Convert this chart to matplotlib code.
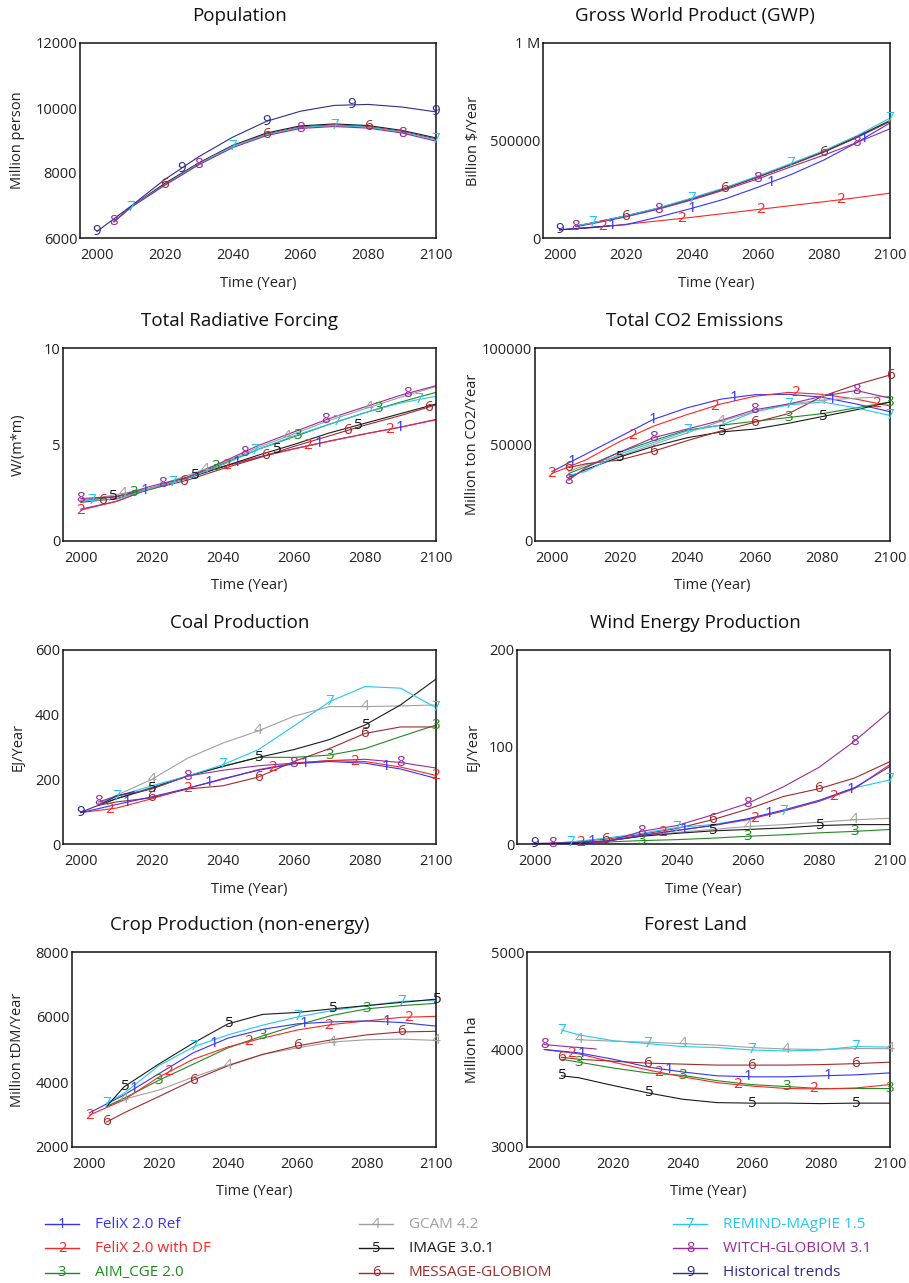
import numpy as np
import matplotlib
matplotlib.use("Agg")
import matplotlib.pyplot as plt
from matplotlib.lines import Line2D

plt.rcParams['font.family'] = ['Open Sans', 'DejaVu Sans']

# ---- data ----
yrs_f = [2000, 2010, 2020, 2030, 2040, 2050, 2060, 2070, 2080, 2090, 2100]
yrs_m = [2005, 2010, 2020, 2030, 2040, 2050, 2060, 2070, 2080, 2090, 2100]
yrs_m10 = [2010, 2020, 2030, 2040, 2050, 2060, 2070, 2080, 2090, 2100]
yrs_h = [2000, 2005, 2010, 2015]

names = ["FeliX 2.0 Ref", "FeliX 2.0 with DF", "AIM_CGE 2.0", "GCAM 4.2", "IMAGE 3.0.1",
         "MESSAGE-GLOBIOM", "REMIND-MAgPIE 1.5", "WITCH-GLOBIOM 3.1", "Historical trends"]
colors = ["#3333ff", "#ff2424", "#1f8a1f", "#a0a0a0", "#1a1a1a",
          "#a32a2a", "#22c8f2", "#992c99", "#2c2c90"]

# Population (Million person)
pop_hist = [6200, 6980, 7800, 8500, 9100, 9590, 9900, 10080, 10110, 10030, 9880]
pop_image = [6500, 6960, 7680, 8310, 8850, 9230, 9450, 9510, 9460, 9310, 9080]
pop_message = [6500, 6950, 7650, 8290, 8830, 9200, 9420, 9480, 9430, 9280, 9050]
pop_remind = [6500, 6950, 7640, 8280, 8820, 9180, 9400, 9460, 9410, 9260, 9020]
pop_witch = [6500, 6940, 7620, 8250, 8780, 9150, 9370, 9430, 9380, 9230, 8980]

# GWP (Billion $/Year)
gwp_felix_ref = [42000, 55000, 68000, 108000, 152000, 200000, 260000, 325000, 400000, 490000, 590000]
gwp_felix_df = [42000, 53000, 70000, 88000, 106000, 126000, 146000, 166000, 186000, 207000, 230000]
gwp_hist = [42000, 48000, 55000, 62000]
gwp_aim = [62000, 78000, 113000, 153000, 202000, 255000, 315000, 378000, 445000, 520000, 603000]
gwp_image = [61000, 77000, 112000, 152000, 200000, 253000, 313000, 376000, 443000, 518000, 600000]
gwp_message = [60000, 76000, 112000, 152000, 200000, 254000, 312000, 375000, 440000, 515000, 598000]
gwp_remind = [63000, 78000, 114000, 155000, 205000, 258000, 318000, 382000, 448000, 525000, 615000]
gwp_witch = [58000, 74000, 108000, 148000, 195000, 247000, 303000, 365000, 425000, 490000, 560000]

# Total radiative forcing (W/m2)
rf_felix_ref = [1.65, 2.05, 2.75, 3.3, 3.85, 4.35, 4.78, 5.18, 5.55, 5.9, 6.3]
rf_felix_df = [1.6, 2.05, 2.75, 3.3, 3.85, 4.33, 4.77, 5.17, 5.55, 5.9, 6.28]
rf_aim = [2.1, 2.3, 2.7, 3.3, 4.0, 4.75, 5.4, 6.05, 6.65, 7.2, 7.7]
rf_gcam = [2.1, 2.4, 2.75, 3.4, 4.05, 4.85, 5.55, 6.25, 6.85, 7.45, 8.0]
rf_image = [2.1, 2.3, 2.75, 3.25, 3.85, 4.45, 5.0, 5.6, 6.1, 6.6, 7.1]
rf_message = [2.0, 2.2, 2.7, 3.15, 3.75, 4.3, 4.9, 5.45, 6.0, 6.5, 7.05]
rf_remind = [2.1, 2.15, 2.75, 3.25, 3.95, 4.75, 5.45, 6.05, 6.65, 7.15, 7.5]
rf_witch = [2.2, 2.3, 2.85, 3.3, 4.1, 4.95, 5.65, 6.35, 6.95, 7.55, 8.05]

# Total CO2 emissions (Million ton CO2/Year)
co2_felix_ref = [36000, 45000, 54000, 63000, 69000, 73500, 75800, 76000, 74500, 71000, 67000]
co2_felix_df = [35000, 42000, 51500, 59500, 65500, 71000, 75000, 77000, 76000, 73500, 70000]
co2_aim = [35000, 38500, 46000, 52000, 57500, 60000, 62000, 64000, 66000, 69000, 72000]
co2_gcam = [36000, 39500, 44000, 50000, 56000, 62000, 67000, 71000, 73000, 74000, 75000]
co2_image = [33000, 37000, 43500, 49000, 53500, 56500, 58000, 61000, 64500, 68000, 72000]
co2_message = [38000, 40000, 42000, 46500, 52000, 57000, 61500, 66000, 75000, 81000, 86000]
co2_remind = [34000, 36000, 45000, 51000, 57000, 60000, 67000, 70500, 72000, 69000, 65000]
co2_witch = [31500, 38000, 46000, 53500, 58000, 62500, 68000, 71000, 75000, 78000, 74000]

# Coal production (EJ/Year)
coal_hist = [98, 120, 148, 162]
coal_felix_ref = [97, 122, 146, 172, 202, 228, 248, 255, 250, 232, 203]
coal_felix_df = [97, 111, 140, 172, 200, 230, 250, 258, 255, 238, 212]
coal_aim = [120, 140, 175, 210, 240, 268, 268, 275, 295, 332, 368]
coal_gcam = [125, 150, 200, 265, 312, 350, 395, 425, 425, 427, 430]
coal_image = [120, 140, 172, 210, 240, 268, 292, 323, 368, 430, 510]
coal_message = [120, 130, 143, 170, 180, 207, 255, 295, 342, 362, 362]
coal_remind = [120, 147, 180, 210, 245, 292, 365, 440, 487, 482, 422]
coal_witch = [130, 148, 170, 210, 228, 242, 250, 258, 262, 252, 235]

# Wind energy production (EJ/Year)
wind_hist = [0.3, 0.5, 1.0, 2.0]
wind_felix_ref = [0.5, 1, 3, 8.5, 14, 19, 26, 35, 45, 58, 80]
wind_felix_df = [0.5, 1, 3, 9, 14, 19, 25, 34, 44, 57, 82]
wind_aim = [0.3, 0.5, 2, 3.5, 4.5, 6, 8, 9.5, 11.5, 13, 15]
wind_gcam = [0.5, 1, 3, 8, 12, 15, 18, 20, 22.5, 25, 26.5]
wind_image = [0.5, 1, 3, 8, 11, 13.5, 15, 16.5, 19, 20, 20]
wind_message = [1, 2, 5, 10, 16, 25, 36, 49, 57, 68, 85]
wind_remind = [0.5, 2, 6, 11, 17, 20, 26, 34, 44, 58, 66]
wind_witch = [0.3, 0.5, 2, 13, 19, 30, 42, 59, 79, 106, 137]

# Crop production (Million tDM/Year)
crop_felix_ref = [3050, 3600, 4250, 4900, 5350, 5620, 5790, 5850, 5880, 5830, 5720]
crop_felix_df = [2980, 3450, 4150, 4700, 5080, 5350, 5600, 5770, 5880, 5990, 6020]
crop_aim = [3250, 3500, 4050, 4550, 5050, 5420, 5750, 6050, 6250, 6350, 6420]
crop_gcam = [3250, 3470, 3750, 4150, 4520, 4850, 5050, 5230, 5300, 5320, 5280]
crop_image = [3250, 3850, 4550, 5200, 5790, 6080, 6140, 6250, 6350, 6450, 6550]
crop_message = [2770, 3050, 3550, 4060, 4500, 4850, 5110, 5300, 5450, 5540, 5560]
crop_remind = [3350, 3650, 4500, 5080, 5450, 5750, 6000, 6200, 6350, 6480, 6520]

# Forest land (Million ha)
forest_felix_ref = [4000, 3965, 3900, 3820, 3770, 3730, 3720, 3720, 3730, 3740, 3760]
forest_felix_df = [4000, 3955, 3870, 3790, 3720, 3660, 3625, 3600, 3595, 3605, 3640]
forest_aim = [3900, 3870, 3810, 3760, 3735, 3680, 3640, 3620, 3600, 3600, 3600]
forest_gcam = [4100, 4085, 4075, 4060, 4045, 4020, 4005, 4000, 4010, 4008]
forest_image = [3730, 3710, 3630, 3555, 3490, 3455, 3450, 3450, 3445, 3450, 3450]
forest_message = [3920, 3900, 3880, 3860, 3850, 3840, 3840, 3840, 3845, 3855, 3870]
forest_remind = [4200, 4150, 4090, 4060, 4030, 4020, 3995, 3985, 3995, 4030, 4025]
forest_witch = [4050, 4035, 4020, 4005]

# ---- panel layout (pixels: left, top, right, bottom) ----
W, H = 909, 1283
panels = [
    dict(title="Population", ylabel="Million person", box=(80, 43, 436, 238),
         ylim=(6000, 12000), yticks=[6000, 8000, 10000, 12000],
         series=[(5, yrs_m, pop_image), (6, yrs_m, pop_message), (7, yrs_m, pop_remind),
                 (8, yrs_m, pop_witch), (9, yrs_f, pop_hist)],
         labels={9: [2000, 2025, 2050, 2075, 2100], 8: [2005, 2030, 2060, 2090],
                 7: [2010, 2040, 2070, 2100], 6: [2020, 2050, 2080]}),
    dict(title="Gross World Product (GWP)", ylabel="Billion $/Year", box=(543, 43, 890, 238),
         ylim=(0, 1000000), yticks=[0, 500000, 1000000], yticklabels=["0", "500000", "1 M"],
         series=[(2, yrs_f, gwp_felix_df), (1, yrs_f, gwp_felix_ref), (3, yrs_m, gwp_aim),
                 (5, yrs_m, gwp_image), (6, yrs_m, gwp_message), (8, yrs_m, gwp_witch),
                 (7, yrs_m, gwp_remind), (9, yrs_h, gwp_hist)],
         labels={9: [2000], 8: [2005, 2030, 2060, 2090], 7: [2010, 2040, 2070, 2100],
                 6: [2020, 2050, 2080], 2: [2013, 2037, 2061, 2085], 1: [2016, 2040, 2064, 2092]}),
    dict(title="Total Radiative Forcing", ylabel="W/(m*m)", box=(63, 348, 436, 541),
         ylim=(0, 10), yticks=[0, 5, 10],
         series=[(1, yrs_f, rf_felix_ref), (2, yrs_f, rf_felix_df), (6, yrs_f, rf_message),
                 (5, yrs_f, rf_image), (3, yrs_f, rf_aim), (7, yrs_f, rf_remind),
                 (4, yrs_f, rf_gcam), (8, yrs_f, rf_witch)],
         labels={8: [2000, 2023, 2046, 2069, 2092], 7: [2003, 2026, 2049, 2072, 2095],
                 6: [2006, 2029, 2052, 2075, 2098], 5: [2009, 2032, 2055, 2078],
                 4: [2012, 2035, 2058, 2081], 3: [2015, 2038, 2061, 2084],
                 1: [2018, 2044, 2067, 2090], 2: [2000, 2041, 2064, 2087]}),
    dict(title="Total CO2 Emissions", ylabel="Million ton CO2/Year", box=(535, 348, 890, 541),
         ylim=(0, 100000), yticks=[0, 50000, 100000],
         series=[(1, yrs_f, co2_felix_ref), (2, yrs_f, co2_felix_df), (3, yrs_m, co2_aim),
                 (4, yrs_m, co2_gcam), (5, yrs_m, co2_image), (6, yrs_m, co2_message),
                 (7, yrs_m, co2_remind), (8, yrs_m, co2_witch)],
         labels={2: [2000, 2024, 2048, 2072, 2096], 1: [2006, 2030, 2054, 2083],
                 8: [2005, 2030, 2060, 2090], 6: [2005, 2030, 2060, 2100],
                 5: [2020, 2050, 2080], 4: [2050, 2080], 7: [2040, 2070, 2100], 3: [2070, 2100]}),
    dict(title="Coal Production", ylabel="EJ/Year", box=(63, 650, 436, 844),
         ylim=(0, 600), yticks=[0, 200, 400, 600],
         series=[(3, yrs_m, coal_aim), (4, yrs_m, coal_gcam), (5, yrs_m, coal_image),
                 (6, yrs_m, coal_message), (7, yrs_m, coal_remind), (8, yrs_m, coal_witch),
                 (2, yrs_f, coal_felix_df), (1, yrs_f, coal_felix_ref), (9, yrs_h, coal_hist)],
         labels={9: [2000], 8: [2005, 2030, 2060, 2090], 7: [2010, 2040, 2070, 2100],
                 2: [2008, 2030, 2054, 2077, 2100], 1: [2013, 2036, 2063, 2086],
                 4: [2020, 2050, 2080], 5: [2020, 2050, 2080], 6: [2020, 2050, 2080],
                 3: [2070, 2100]}),
    dict(title="Wind Energy Production", ylabel="EJ/Year", box=(517, 650, 890, 844),
         ylim=(0, 200), yticks=[0, 100, 200],
         series=[(3, yrs_m, wind_aim), (4, yrs_m, wind_gcam), (5, yrs_m, wind_image),
                 (6, yrs_m, wind_message), (7, yrs_m, wind_remind), (8, yrs_m, wind_witch),
                 (2, yrs_f, wind_felix_df), (1, yrs_f, wind_felix_ref), (9, yrs_h, wind_hist)],
         labels={9: [2000], 8: [2005, 2030, 2060, 2090], 7: [2010, 2040, 2070, 2100],
                 2: [2013, 2036, 2062, 2084], 1: [2016, 2042, 2066, 2089],
                 6: [2020, 2050, 2080], 3: [2030, 2060, 2090], 4: [2060, 2090], 5: [2050, 2080]}),
    dict(title="Crop Production (non-energy)", ylabel="Million tDM/Year", box=(72, 952, 436, 1147),
         ylim=(2000, 8000), yticks=[2000, 4000, 6000, 8000],
         series=[(4, yrs_m, crop_gcam), (6, yrs_m, crop_message), (3, yrs_m, crop_aim),
                 (2, yrs_f, crop_felix_df), (1, yrs_f, crop_felix_ref), (7, yrs_m, crop_remind),
                 (5, yrs_m, crop_image)],
         labels={7: [2005, 2030, 2060, 2090], 5: [2010, 2040, 2070, 2100],
                 4: [2010, 2040, 2070, 2100], 3: [2020, 2050, 2080],
                 2: [2000, 2023, 2046, 2069, 2092], 1: [2013, 2036, 2062, 2086],
                 6: [2005, 2030, 2060, 2090]}),
    dict(title="Forest Land", ylabel="Million ha", box=(527, 952, 890, 1147),
         ylim=(3000, 5000), yticks=[3000, 4000, 5000],
         series=[(5, yrs_m, forest_image), (3, yrs_m, forest_aim), (2, yrs_f, forest_felix_df),
                 (1, yrs_f, forest_felix_ref), (6, yrs_m, forest_message),
                 (4, yrs_m10, forest_gcam), (7, yrs_m, forest_remind), (8, yrs_h, forest_witch)],
         labels={8: [2000], 7: [2005, 2030, 2060, 2090], 4: [2010, 2040, 2070, 2100],
                 6: [2005, 2030, 2060, 2090], 2: [2008, 2033, 2056, 2078],
                 1: [2011, 2036, 2059, 2082], 3: [2010, 2040, 2070, 2100],
                 5: [2005, 2030, 2060, 2090]}),
]

text_col = "#222222"
fig = plt.figure(figsize=(W / 100, H / 100), dpi=100)

for i, p in enumerate(panels):
    l, t, r, b = p["box"]
    ax = fig.add_axes([l / W, 1 - b / H, (r - l) / W, (b - t) / H])
    for num, xs, ys in p["series"]:
        c = colors[num - 1]
        ax.plot(xs, ys, color=c, lw=0.8)
        for yr in p["labels"].get(num, []):
            ax.text(yr, np.interp(yr, xs, ys), str(num), color=c, fontsize=11,
                    ha="center", va="center")
    ax.set_xlim(1995, 2100)
    ax.set_ylim(*p["ylim"])
    ax.set_xticks([2000, 2020, 2040, 2060, 2080, 2100])
    ax.set_yticks(p["yticks"])
    ax.set_yticklabels(p.get("yticklabels", [str(v) for v in p["yticks"]]))
    ax.tick_params(axis="x", length=0, pad=7, labelsize=10.5, labelcolor=text_col)
    ax.tick_params(axis="y", length=0, pad=2, labelsize=10.5, labelcolor=text_col)
    for s in ax.spines.values():
        s.set_linewidth(1.1)
        s.set_color("#111111")

    right = i % 2 == 1
    fig.text((695 if right else 240) / W, 1 - (t - 27) / H, p["title"],
             ha="center", va="center", fontsize=13.5, color="#111111")
    fig.text((473 if right else 18) / W, 1 - (t + b) / 2 / H, p["ylabel"], rotation=90,
             ha="center", va="center", fontsize=10.5, color=text_col)
    fig.text((l + r) / 2 / W, 1 - (b + 45) / H, "Time (Year)",
             ha="center", va="center", fontsize=10.5, color=text_col)

# legend at the bottom, three columns
col_x = [45, 359, 673]
row_y = [1224, 1248, 1273]
for k, name in enumerate(names):
    x0 = col_x[k // 3]
    y = 1 - row_y[k % 3] / H
    c = colors[k]
    fig.add_artist(Line2D([x0 / W, (x0 + 34) / W], [y, y], color=c, lw=1.0,
                          transform=fig.transFigure))
    fig.text((x0 + 17) / W, y, str(k + 1), color=c, fontsize=10.5, ha="center", va="center")
    fig.text((x0 + 50) / W, y, name, color=c, fontsize=11, ha="left", va="center")

fig.savefig("out.png", dpi=100)
